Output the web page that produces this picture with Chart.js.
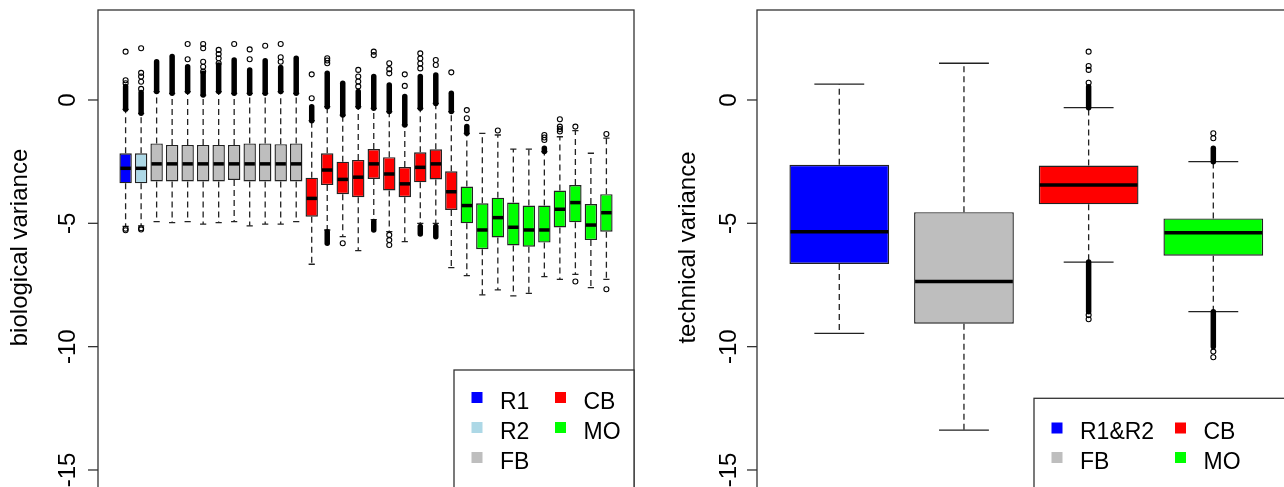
<!DOCTYPE html>
<html>
<head>
<meta charset="utf-8">
<script src="https://cdn.jsdelivr.net/npm/chart.js@4.4.1/dist/chart.umd.min.js"></script>
<style>
html, body { margin:0; padding:0; background:#fff; overflow:hidden; width:1284px; height:487px; }
#left { position:absolute; left:0; top:0; width:640px; height:500px; }
#right { position:absolute; left:640px; top:0; width:680px; height:500px; }
</style>
</head>
<body>
<div id="left"><canvas id="bio"></canvas></div>
<div id="right"><canvas id="tech"></canvas></div>
<script>
// tick labels, shared by both panels
var yTicks = [-15, -10, -5, 0]

var groupColors = { 'R1':'#0000ff', 'R2':'#add8e6', 'FB':'#bebebe', 'CB':'#ff0000', 'MO':'#00ff00', 'R1&R2':'#0000ff' }

// ---- biological variance (left) ----
var bioGroups = ['R1','R2',
  'FB','FB','FB','FB','FB','FB','FB','FB','FB','FB',
  'CB','CB','CB','CB','CB','CB','CB','CB','CB','CB',
  'MO','MO','MO','MO','MO','MO','MO','MO','MO','MO']
var bioLow  = [-5.12,-5.1, -4.93,-4.97,-4.93,-5.03,-4.97,-4.93,-5.1,-5.03,-5.03,-4.93,
  -6.66,-5.27,-5.54,-6.11,-4.85,-5.34,-5.74,-5.0,-5.0,-6.8,
  -7.12,-7.9,-7.7,-7.94,-7.84,-7.16,-7.27,-7.07,-7.61,-7.27]
var bioQ1   = [-3.38,-3.38, -3.3,-3.3,-3.3,-3.3,-3.3,-3.24,-3.3,-3.3,-3.3,-3.3,
  -4.73,-3.45,-3.82,-3.94,-3.2,-3.67,-3.94,-3.34,-3.22,-4.46,
  -5.0,-6.05,-5.57,-5.9,-5.95,-5.78,-5.17,-4.96,-5.68,-5.34]
var bioMed  = [-2.77,-2.77, -2.59,-2.59,-2.59,-2.59,-2.59,-2.59,-2.59,-2.59,-2.59,-2.59,
  -3.99,-2.84,-3.22,-3.13,-2.59,-3.0,-3.4,-2.73,-2.59,-3.72,
  -4.28,-5.27,-4.77,-5.16,-5.27,-5.27,-4.43,-4.16,-5.07,-4.57]
var bioQ3   = [-2.16,-2.16, -1.76,-1.82,-1.82,-1.82,-1.82,-1.82,-1.76,-1.76,-1.79,-1.76,
  -3.15,-2.16,-2.5,-2.43,-1.99,-2.32,-2.72,-2.12,-2.0,-2.89,
  -3.51,-4.19,-3.96,-4.16,-4.28,-4.28,-3.67,-3.45,-4.22,-3.82]
var bioHigh = [-0.38,-0.54, 0.34,0.27,0.34,0.2,0.34,0.27,0.27,0.27,0.34,0.27,
  -0.84,-0.27,-0.61,-0.27,-0.34,-0.47,-1.01,-0.34,-0.14,-0.47,
  -1.35,-1.35,-1.42,-1.99,-1.99,-2.09,-1.49,-1.24,-2.16,-1.55]
// dense runs of outliers (drawn as solid strips) and single outliers
var bioBandUp = [[-0.38,0.55],[-0.54,0.3], [0.34,1.55],[0.27,1.76],[0.34,1.35],[0.2,1.08],[0.34,1.42],[0.27,1.62],[0.27,1.22],[0.27,1.59],[0.34,1.32],[0.27,1.69],
  [-0.84,-0.27],[-0.27,1.08],[-0.61,0.68],[-0.27,0.34],[-0.34,0.95],[-0.47,0.61],[-1.01,0.14],[-0.34,0.95],[-0.14,1.01],[-0.47,0.27],
  [-1.35,-1.08],null,null,null,null,[-2.09,-1.96],null,null,null,null]
var bioOutUp = [[0.68,0.8,1.96],[0.45,0.74,0.95,1.1,2.1], [],[],[1.65,2.27],[1.15,1.35,1.55,2.1,2.27],[1.49,1.69,1.86,2.03],[2.27],[1.65,2.05],[2.2],[1.55,1.73,2.27],[],
  [0.07,1.04],[1.49,1.6,1.69],[],[0.55,0.75,0.95,1.22],[1.82,1.96],[1.08,1.25,1.49],[0.57,1.04],[1.28,1.48,1.68,1.89],[1.42,1.62],[1.12],
  [-0.74,-0.41],[],[-1.24],[],[],[-1.62,-1.52,-1.42],[-1.28,-1.18,-1.08,-0.78],[-1.08],[],[-1.38]]
var bioBandLow = [null,null, null,null,null,null,null,null,null,null,null,null,
  null,[-5.81,-5.34],null,null,[-5.27,-4.93],null,null,[-5.43,-5.13],[-5.54,-5.13],null,
  null,null,null,null,null,null,null,null,null,null]
var bioOutLow = [[-5.22,-5.28],[-5.2,-5.25], [],[],[],[],[],[],[],[],[],[],
  [],[],[-5.81],[],[],[-5.47,-5.68,-5.88],[],[],[],[],
  [],[],[],[],[],[],[],[-7.36],[],[-7.67]]
var bioLegend = ['R1','R2','FB','CB','MO']

// ---- technical variance (right) ----
var techGroups = ['R1&R2','FB','CB','MO']
var techLow  = [-9.46,-13.38,-6.57,-8.58]
var techQ1   = [-6.65,-9.07,-4.23,-6.31]
var techMed  = [-5.34,-7.36,-3.45,-5.38]
var techQ3   = [-2.63,-4.55,-2.66,-4.8]
var techHigh = [0.64,1.49,-0.31,-2.5]
var techBandUp  = [null,null,[-0.31,0.54],[-2.5,-1.96]]
var techOutUp   = [[],[],[0.7,1.22,1.38,1.96],[-1.55,-1.35]]
var techBandLow = [null,null,[-8.58,-6.57],[-10.0,-8.58]]
var techOutLow  = [[],[],[-8.72,-8.89],[-10.2,-10.43]]
var techLegend = ['R1&R2','FB','CB','MO']

var FONT = '"Liberation Sans", Arial, sans-serif'

var boxExtras = {
  id: 'boxExtras',
  beforeDatasetsDraw: function(chart, args, o) {
    var ctx = chart.ctx, x = chart.scales.x, y = chart.scales.y
    var bars = chart.getDatasetMeta(0).data
    ctx.save()
    ctx.strokeStyle = '#222'
    ctx.lineWidth = 1.3
    o.low.forEach(function(lo, i) {
      var px = x.getPixelForValue(i + 1)
      var cap = bars[i].width / 4
      ctx.setLineDash([6, 4])
      ctx.beginPath()
      ctx.moveTo(px, y.getPixelForValue(o.q3[i])); ctx.lineTo(px, y.getPixelForValue(o.high[i]))
      ctx.moveTo(px, y.getPixelForValue(o.q1[i])); ctx.lineTo(px, y.getPixelForValue(lo))
      ctx.stroke()
      ctx.setLineDash([])
      ctx.beginPath()
      ctx.moveTo(px - cap, y.getPixelForValue(o.high[i])); ctx.lineTo(px + cap, y.getPixelForValue(o.high[i]))
      ctx.moveTo(px - cap, y.getPixelForValue(lo)); ctx.lineTo(px + cap, y.getPixelForValue(lo))
      ctx.stroke()
    })
    ctx.restore()
  },
  afterDatasetsDraw: function(chart, args, o) {
    var ctx = chart.ctx, x = chart.scales.x, y = chart.scales.y
    var bars = chart.getDatasetMeta(0).data
    ctx.save()
    // medians
    ctx.strokeStyle = '#000'
    ctx.lineWidth = 3.5
    o.med.forEach(function(m, i) {
      var b = bars[i], py = y.getPixelForValue(m)
      ctx.beginPath()
      ctx.moveTo(b.x - b.width / 2 + 1, py); ctx.lineTo(b.x + b.width / 2 - 1, py)
      ctx.stroke()
    })
    // dense outlier runs
    ctx.lineWidth = 5.5
    ctx.lineCap = 'round'
    o.bandUp.concat(o.bandLow).forEach(function(bd, k) {
      if (!bd) return
      var i = k % o.low.length
      var px = x.getPixelForValue(i + 1)
      ctx.beginPath()
      ctx.moveTo(px, y.getPixelForValue(bd[0])); ctx.lineTo(px, y.getPixelForValue(bd[1]))
      ctx.stroke()
    })
    ctx.restore()
  },
  afterDraw: function(chart, args, o) {
    var ctx = chart.ctx, a = chart.chartArea, y = chart.scales.y
    ctx.save()
    ctx.strokeStyle = '#333'
    ctx.lineWidth = 1.3
    ctx.strokeRect(a.left, a.top, a.right - a.left, a.bottom - a.top)
    // y axis ticks and labels
    ctx.fillStyle = '#000'
    ctx.font = '24px ' + FONT
    ctx.textAlign = 'center'
    ctx.textBaseline = 'alphabetic'
    yTicks.forEach(function(t) {
      var py = y.getPixelForValue(t)
      ctx.beginPath(); ctx.moveTo(a.left - 10, py); ctx.lineTo(a.left, py); ctx.stroke()
      ctx.save(); ctx.translate(o.tickX, py); ctx.rotate(-Math.PI / 2); ctx.fillText(String(t), 0, 0); ctx.restore()
    })
    ctx.save(); ctx.translate(o.titleX, 247.5); ctx.rotate(-Math.PI / 2); ctx.fillText(o.title, 0, 0); ctx.restore()
    // legend box, flush with the plot's right edge
    var L = o.legend
    var lw = a.right - L.left, lh = a.bottom + 20 - L.top
    ctx.fillStyle = '#fff'
    ctx.fillRect(L.left, L.top, lw, lh)
    ctx.strokeRect(L.left, L.top, lw, lh)
    ctx.font = '23px ' + FONT
    ctx.textAlign = 'left'
    o.legendLabels.forEach(function(lab, i) {
      var col = Math.floor(i / L.rows), row = i % L.rows
      var sx = L.sqX + col * L.colW, sy = L.sqY + row * L.rowH
      ctx.fillStyle = groupColors[lab]
      ctx.fillRect(sx - 5.5, sy - 5.5, 11, 11)
      ctx.fillStyle = '#000'
      ctx.fillText(lab, sx + 23, sy + 11)
    })
    ctx.restore()
  }
}

function boxChart(id, d) {
  var outliers = []
  d.outUp.concat(d.outLow).forEach(function(list, k) {
    var i = k % d.low.length
    list.forEach(function(v) { outliers.push({ x: i + 1, y: v }) })
  })
  return new Chart(document.getElementById(id), {
    type: 'bar',
    data: {
      datasets: [{
        type: 'bar',
        data: d.q1.map(function(v, i) { return { x: i + 1, y: [v, d.q3[i]] } }),
        backgroundColor: d.groups.map(function(g) { return groupColors[g] }),
        borderColor: '#222',
        borderWidth: 1.4,
        borderSkipped: false,
        categoryPercentage: 1,
        barPercentage: 0.8
      }, {
        type: 'scatter',
        data: outliers,
        pointStyle: 'circle',
        pointRadius: 2.5,
        pointBorderWidth: 1.1,
        pointBorderColor: '#000',
        pointBackgroundColor: 'rgba(0,0,0,0)'
      }]
    },
    options: {
      responsive: true,
      maintainAspectRatio: false,
      animation: false,
      layout: { padding: d.padding },
      scales: {
        x: {
          type: 'linear', min: d.xMin, max: d.xMax, display: false, offset: false,
          // one tick per box, so the bar width follows the box spacing
          afterBuildTicks: function(s) { s.ticks = d.groups.map(function(g, i) { return { value: i + 1 } }) }
        },
        y: { type: 'linear', min: -16.01, max: 3.648, display: false }
      },
      plugins: {
        legend: { display: false },
        tooltip: { enabled: false },
        boxExtras: {
          low: d.low, q1: d.q1, med: d.med, q3: d.q3, high: d.high,
          bandUp: d.bandUp, bandLow: d.bandLow,
          title: d.title, titleX: d.titleX, tickX: d.tickX,
          legend: d.legend, legendLabels: d.legendLabels
        }
      }
    },
    plugins: [boxExtras]
  })
}

boxChart('bio', {
  groups: bioGroups, low: bioLow, q1: bioQ1, med: bioMed, q3: bioQ3, high: bioHigh,
  bandUp: bioBandUp, outUp: bioOutUp, bandLow: bioBandLow, outLow: bioOutLow,
  xMin: -0.78, xMax: 33.78,
  padding: { left: 98, top: 10, right: 6, bottom: 5 },
  title: 'biological variance', titleX: 27, tickX: 75,
  legendLabels: bioLegend,
  legend: { left: 454, top: 370, sqX: 477, sqY: 397.5, rowH: 30, colW: 83.5, rows: 3 }
})

boxChart('tech', {
  groups: techGroups, low: techLow, q1: techQ1, med: techMed, q3: techQ3, high: techHigh,
  bandUp: techBandUp, outUp: techOutUp, bandLow: techBandLow, outLow: techOutLow,
  xMin: 0.34, xMax: 4.66,
  padding: { left: 117, top: 10, right: 24.4, bottom: 5 },
  title: 'technical variance', titleX: 55, tickX: 96,
  legendLabels: techLegend,
  legend: { left: 394, top: 398.3, sqX: 417, sqY: 428, rowH: 29.5, colW: 123.5, rows: 2 }
})
</script>
</body>
</html>
